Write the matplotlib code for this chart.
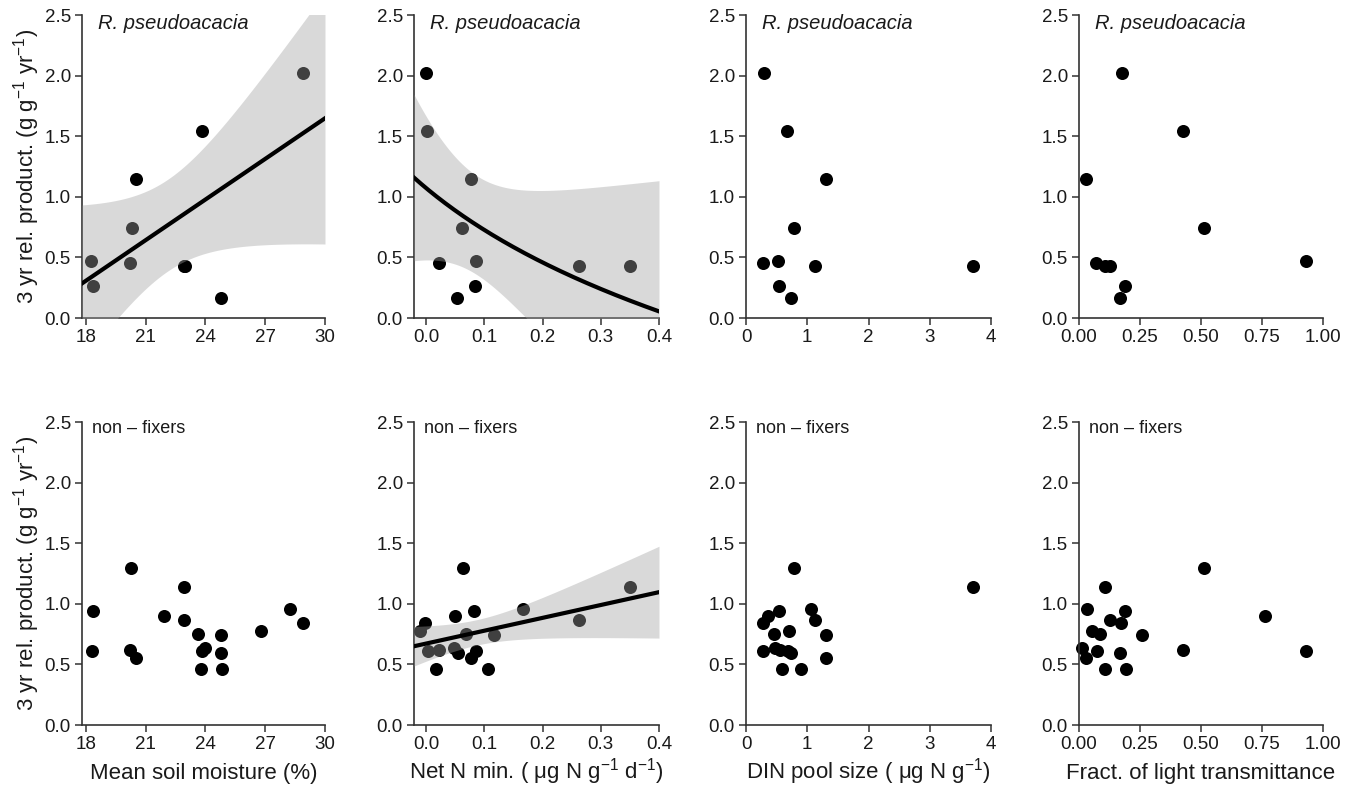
import numpy as np
import matplotlib
matplotlib.use("Agg")
import matplotlib.pyplot as plt

plt.rcParams['font.family'] = ['Liberation Sans', 'DejaVu Sans']
plt.rcParams['mathtext.fontset'] = 'custom'
plt.rcParams['mathtext.rm'] = 'Liberation Sans'
plt.rcParams['mathtext.it'] = 'Liberation Sans:italic'
plt.rcParams['mathtext.default'] = 'regular'

# ---- R. pseudoacacia (N fixer) ----
rp_prod = [2.02, 1.54, 1.15, 0.74, 0.47, 0.45, 0.26, 0.165, 0.43, 0.43]
rp_moist = [28.88, 23.81, 20.51, 20.29, 18.23, 20.21, 18.37, 24.79, 22.94, 22.96]
rp_nmin = [-0.001, 0.002, 0.077, 0.061, 0.085, 0.022, 0.083, 0.053, 0.263, 0.351]
rp_din = [0.29, 0.675, 1.306, 0.784, 0.528, 0.283, 0.544, 0.729, 1.132, 3.71]
rp_light = [0.176, 0.426, 0.030, 0.512, 0.929, 0.071, 0.187, 0.167, 0.105, 0.128]

# ---- non-fixers ----
nf_prod = [1.297, 1.14, 0.942, 0.955, 0.898, 0.865, 0.843, 0.775, 0.748,
           0.745, 0.632, 0.613, 0.616, 0.613, 0.594, 0.555, 0.459, 0.459]
nf_moist = [20.26, 22.94, 18.37, 28.26, 21.92, 22.94, 28.88, 26.79, 23.61,
            24.76, 23.99, 18.28, 20.21, 23.81, 24.79, 20.51, 23.77, 24.85]
nf_nmin = [0.0624, 0.3508, 0.0824, 0.1665, 0.0486, 0.2632, -0.0017, -0.0103, 0.0681,
           0.1173, 0.0469, 0.0023, 0.0223, 0.0853, 0.0538, 0.0767, 0.0166, 0.1064]
nf_din = [0.789, 3.71, 0.544, 1.056, 0.354, 1.127, 0.283, 0.707, 0.457,
          1.306, 0.473, 0.283, 0.555, 0.680, 0.735, 1.306, 0.582, 0.893]
nf_light = [0.512, 0.108, 0.187, 0.034, 0.761, 0.126, 0.173, 0.055, 0.085,
            0.260, 0.014, 0.074, 0.426, 0.929, 0.167, 0.030, 0.105, 0.191]

x_labels = ['Mean soil moisture (%)',
            r'Net N min. ( $\mu$g N g$^{-1}$ d$^{-1}$)',
            r'DIN pool size ( $\mu$g N g$^{-1}$)',
            'Fract. of light transmittance']
x_limits = [(17.8, 30), (-0.021, 0.4), (0, 4), (0, 1)]
x_ticks = [[18, 21, 24, 27, 30], [0.0, 0.1, 0.2, 0.3, 0.4], [0, 1, 2, 3, 4],
           [0.0, 0.25, 0.5, 0.75, 1.0]]
x_ticklabels = [['18', '21', '24', '27', '30'], ['0.0', '0.1', '0.2', '0.3', '0.4'],
                ['0', '1', '2', '3', '4'], ['0.00', '0.25', '0.50', '0.75', '1.00']]
y_ticks = [0.0, 0.5, 1.0, 1.5, 2.0, 2.5]
y_label = r'3 yr rel. product. (g g$^{-1}$ yr$^{-1}$)'

T_975 = {8: 2.306, 16: 2.120}


def identity(x):
    return x


def log_shift(x):
    return np.log(x + 0.3)


def fit_band(x, y, xgrid, transform):
    """Linear regression of y on transform(x) with a 95% confidence band."""
    u = transform(np.asarray(x, float))
    y = np.asarray(y, float)
    X = np.column_stack([np.ones_like(u), u])
    beta, *_ = np.linalg.lstsq(X, y, rcond=None)
    resid = y - X @ beta
    dof = len(y) - 2
    s2 = resid @ resid / dof
    cov = s2 * np.linalg.inv(X.T @ X)
    ug = transform(xgrid)
    G = np.column_stack([np.ones_like(ug), ug])
    fit = G @ beta
    se = np.sqrt(np.einsum('ij,jk,ik->i', G, cov, G))
    t = T_975[dof]
    return fit, fit - t * se, fit + t * se


fig = plt.figure(figsize=(13.59, 7.87), dpi=100)
W, H = 1359, 787
col_px = [(82, 325), (414, 659), (746, 991), (1079, 1323)]
row_px = [(15, 318), (422, 725)]

rows = [
    ('R. pseudoacacia', rp_prod, [rp_moist, rp_nmin, rp_din, rp_light],
     {0: identity, 1: log_shift}),
    ('non – fixers', nf_prod, [nf_moist, nf_nmin, nf_din, nf_light],
     {1: identity}),
]

spine_col = '#333333'
text_col = '#1a1a1a'

for r, (title, yvals, xsets, fits) in enumerate(rows):
    top, bot = row_px[r]
    for c in range(4):
        l, rgt = col_px[c]
        ax = fig.add_axes([l / W, 1 - bot / H, (rgt - l) / W, (bot - top) / H])
        xs = xsets[c]
        ax.scatter(xs, yvals, s=88, color='black', linewidths=0, zorder=2,
                   clip_on=False)
        if c in fits:
            xg = np.linspace(x_limits[c][0], x_limits[c][1], 300)
            fit, lo, hi = fit_band(xs, yvals, xg, fits[c])
            ax.fill_between(xg, lo, hi, color=(0.63, 0.63, 0.63), alpha=0.4,
                            linewidth=0, zorder=3)
            ax.plot(xg, fit, color='black', lw=3, zorder=4)
        ax.set_xlim(*x_limits[c])
        ax.set_ylim(0, 2.5)
        ax.set_xticks(x_ticks[c])
        ax.set_xticklabels(x_ticklabels[c])
        ax.set_yticks(y_ticks)
        ax.set_yticklabels([f'{v:.1f}' for v in y_ticks])
        for side in ('top', 'right'):
            ax.spines[side].set_visible(False)
        for side in ('left', 'bottom'):
            ax.spines[side].set_color(spine_col)
            ax.spines[side].set_linewidth(1.2)
        ax.tick_params(direction='out', length=5, width=1.1, color=spine_col,
                       labelsize=13.5, labelcolor=text_col, pad=3)
        if title.startswith('R.'):
            ax.annotate(title, xy=(0, 1), xycoords='axes fraction',
                        xytext=(11.5, -6), textcoords='offset points',
                        ha='left', va='center', fontsize=14.5,
                        style='italic', color=text_col)
        else:
            ax.annotate(title, xy=(0, 1), xycoords='axes fraction',
                        xytext=(7.2, -5), textcoords='offset points',
                        ha='left', va='center', fontsize=13, color=text_col)
        if c == 0:
            ax.set_ylabel(y_label, fontsize=16, color=text_col)
            ax.yaxis.set_label_coords(-0.165, 0.5)
        if r == 1:
            ax.set_xlabel(x_labels[c], fontsize=16, color=text_col)
            ax.xaxis.label.set_verticalalignment('baseline')
            ax.xaxis.set_label_coords(0.5, -0.178)

fig.savefig('out.png', dpi=100)
